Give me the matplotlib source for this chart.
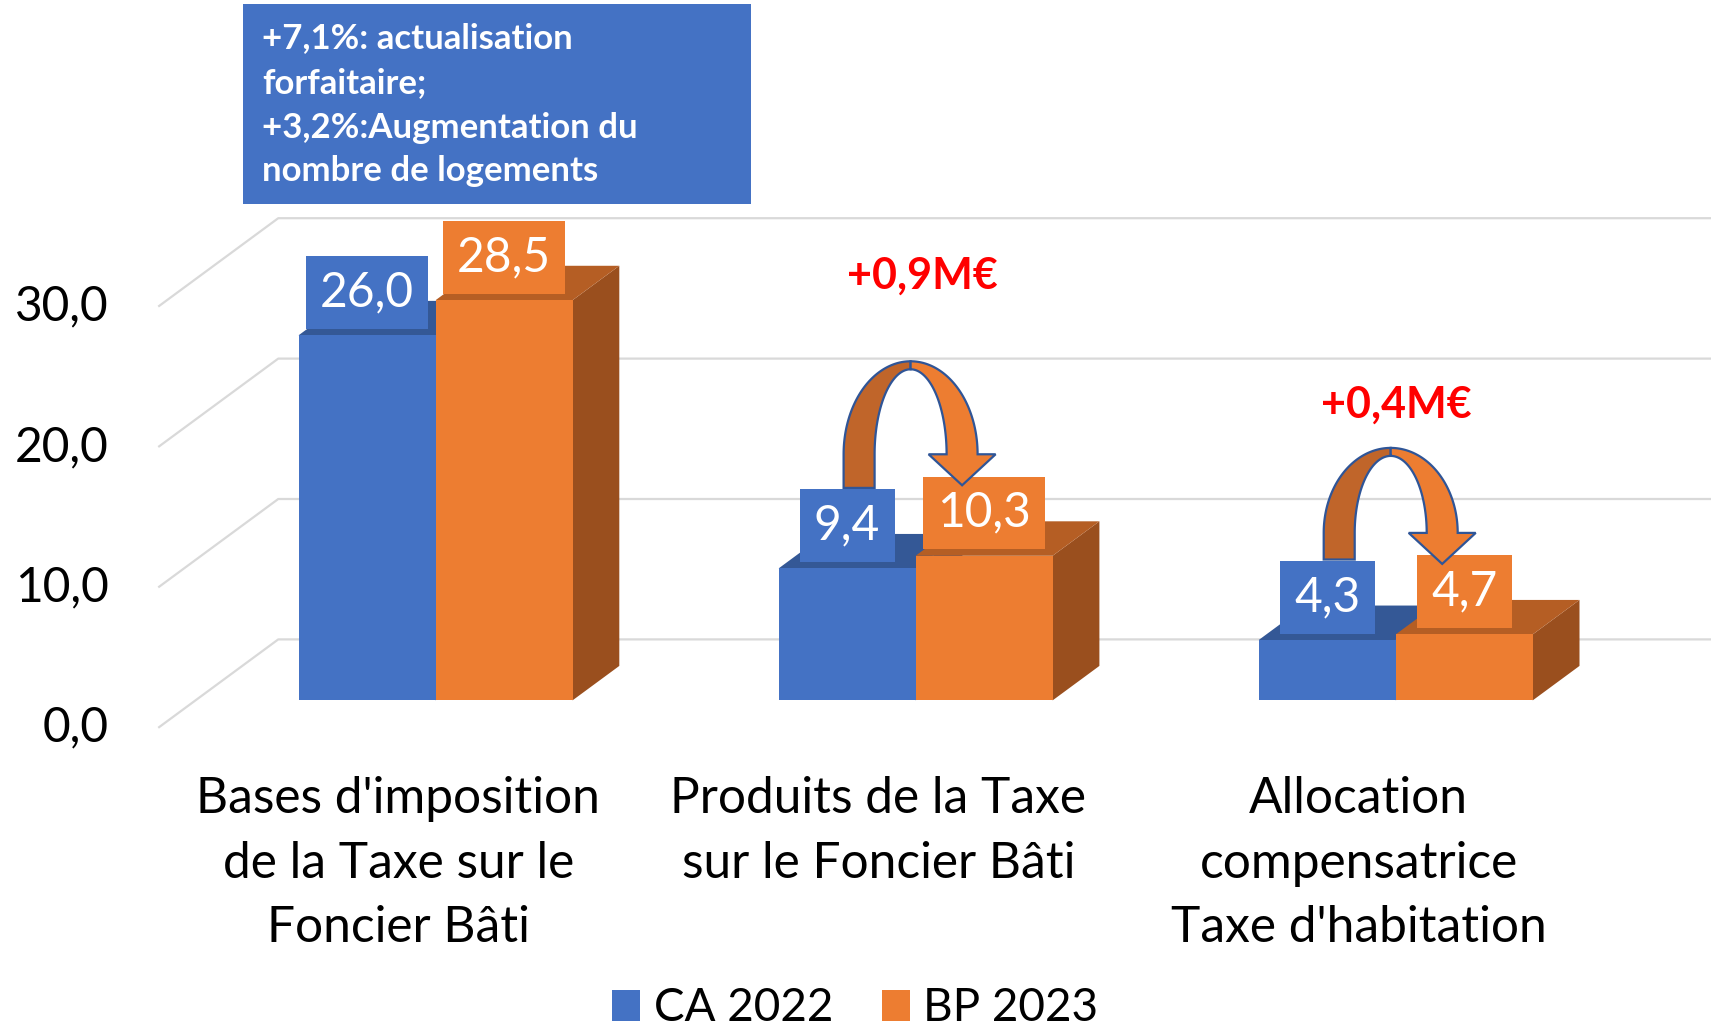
import numpy as np
import matplotlib.pyplot as plt
from matplotlib.patches import Polygon, Rectangle, Patch

plt.rcParams['font.family'] = ['Lato', 'DejaVu Sans']

# données
categories = ["Bases d'imposition\nde la Taxe sur le\nFoncier Bâti",
              "Produits de la Taxe\nsur le Foncier Bâti",
              "Allocation\ncompensatrice\nTaxe d'habitation"]
ca_2022 = [26.0, 9.4, 4.3]
bp_2023 = [28.5, 10.3, 4.7]
series_names = ["CA 2022", "BP 2023"]
y_ticks = [0, 10, 20, 30]
note_lines = ["+7,1%: actualisation", "forfaitaire;",
              "+3,2%:Augmentation du", "nombre de logements"]
delta_groups = [1, 2]
delta_texts = ["+0,9M€", "+0,4M€"]

# couleurs
BLUE, BLUE_TOP = '#4472C4', '#345896'
ORANGE, ORANGE_TOP, ORANGE_SIDE = '#ED7D31', '#B55E24', '#9A4F1E'
ARROW_DARK, ARROW_EDGE = '#C0652A', '#2F5597'
GRID = '#D9D9D9'

# mise en page (pixels de l'image 1711x1030)
W_PX, H_PX = 1711, 1030
SX, SY = 480.1, 14.04          # px par catégorie / px par unité
X0, Y0 = 398.3, 727.8          # position de la catégorie 0, valeur 0 (profondeur 0)
DX, DY = 120 / SX, 88.4 / SY   # décalage de profondeur (effet 3D)
D1, D2 = 0.31, 0.70            # face avant / arrière des barres
BAR_W = 137 / SX
GAP = 6.5                      # px entre barre et étiquette
LBL_TOP = (GAP + 74) / SY      # haut de l'étiquette au-dessus de la barre
FS = 34.5                      # taille des nombres

fig = plt.figure(figsize=(W_PX / 100, H_PX / 100), dpi=100)
ax = fig.add_axes([0, 0, 1, 1])
ax.set_xlim(-X0 / SX, (W_PX - X0) / SX)
ax.set_ylim(-(H_PX - Y0) / SY, Y0 / SY)
ax.axis('off')

# quadrillage (mur gauche + mur du fond)
x_wall = -0.5
for v in y_ticks:
    ax.plot([x_wall, x_wall + DX, ax.get_xlim()[1]], [v, v + DY, v + DY],
            color=GRID, lw=1.6, zorder=0, solid_capstyle='butt')
    ax.text(x_wall - 0.1026, v, f"{v:.1f}".replace('.', ','), ha='right', va='center',
            fontsize=FS, color='black')

x = np.arange(len(categories))
x_blue = x + D1 * DX - BAR_W
x_orange = x + D1 * DX
base = D1 * DY
ox, oy = (D2 - D1) * DX, (D2 - D1) * DY


def faces(xl, value, top_c, side_c, z):
    xr = xl + BAR_W
    y1 = value + base
    ax.add_patch(Polygon([(xr, base), (xr + ox, base + oy), (xr + ox, y1 + oy), (xr, y1)],
                         closed=True, fc=side_c, ec='none', zorder=z))
    ax.add_patch(Polygon([(xl, y1), (xr, y1), (xr + ox, y1 + oy), (xl + ox, y1 + oy)],
                         closed=True, fc=top_c, ec='none', zorder=z))


for i in range(len(categories)):
    faces(x_blue[i], ca_2022[i], BLUE_TOP, BLUE_TOP, 2)
    faces(x_orange[i], bp_2023[i], ORANGE_TOP, ORANGE_SIDE, 3)
ax.bar(x_blue, ca_2022, width=BAR_W, bottom=base, align='edge', color=BLUE, zorder=2.5)
ax.bar(x_orange, bp_2023, width=BAR_W, bottom=base, align='edge', color=ORANGE, zorder=3.5)

# étiquettes de valeurs
PAD = 0.30
for xs, vals, col in [(x_blue, ca_2022, BLUE), (x_orange, bp_2023, ORANGE)]:
    for xi, v in zip(xs, vals):
        y = v + base + (GAP + PAD * FS * 100 / 72) / SY
        ax.text(xi + BAR_W / 2, y, f"{v:.1f}".replace('.', ','), ha='center', va='bottom',
                fontsize=FS, color='white', zorder=5,
                bbox=dict(boxstyle=f'square,pad={PAD}', fc=col, ec='none'))


# flèches courbes
def curved_arrow(i, rise_px):
    leg_c = x_blue[i] + BAR_W / 2 + 12 / SX
    tip_x = x_orange[i] + BAR_W / 2 - 22 / SX
    foot_y = ca_2022[i] + base + LBL_TOP
    o_top = bp_2023[i] + base + LBL_TOP
    tip_y = o_top - 10 / SY
    band = 31
    outer_l = leg_c - band / 2 / SX
    outer_r = tip_x + band / 2 / SX
    cx = (outer_l + outer_r) / 2
    ao = (outer_r - outer_l) / 2
    ai = ao - band / SX
    cy = tip_y + 31 / SY
    bo = o_top + rise_px / SY - cy
    bi = bo - 8 / SY
    t_l = np.linspace(np.pi, np.pi / 2, 60)
    left = [(cx - ao, foot_y)] + list(zip(cx + ao * np.cos(t_l), cy + bo * np.sin(t_l)))
    left += list(zip(cx + ai * np.cos(t_l[::-1]), cy + bi * np.sin(t_l[::-1])))
    left += [(cx - ai, foot_y)]
    t_r = np.linspace(np.pi / 2, 0, 60)
    right = list(zip(cx + ao * np.cos(t_r), cy + bo * np.sin(t_r)))
    hw = 33.5 / SX
    right += [(tip_x + hw, cy), (tip_x, tip_y), (tip_x - hw, cy)]
    right += list(zip(cx + ai * np.cos(t_r[::-1]), cy + bi * np.sin(t_r[::-1])))
    ax.add_patch(Polygon(left, closed=True, fc=ARROW_DARK, ec=ARROW_EDGE, lw=1.6, zorder=6))
    ax.add_patch(Polygon(right, closed=True, fc=ORANGE, ec=ARROW_EDGE, lw=1.6, zorder=6))


curved_arrow(1, 114)
curved_arrow(2, 106)

delta_pos = [(1.0908, 32.2), (2.0796, 23.0)]
for (px, py), txt in zip(delta_pos, delta_texts):
    ax.text(px, py, txt, ha='center', va='center', fontsize=31, fontweight='bold',
            color='#FF0000', zorder=7)

# catégories
for i, lab in enumerate(categories):
    ax.text(i, -3.45, lab, ha='center', va='top', fontsize=35.7, linespacing=1.5)

# encadré
fig.add_artist(Rectangle((243 / W_PX, 1 - 204 / H_PX), 508 / W_PX, 199.6 / H_PX,
                         transform=fig.transFigure, fc=BLUE, ec='none', zorder=8))
for yy, line in zip([38.2, 82.9, 127.7, 171.3], note_lines):
    fig.text(262 / W_PX, 1 - yy / H_PX, line, ha='left', va='center', fontsize=25,
             fontweight='bold', color='white', zorder=9)

# légende
handles = [Patch(fc=BLUE, ec='none'), Patch(fc=ORANGE, ec='none')]
ax.legend(handles, series_names, loc='center', bbox_to_anchor=(0.5, 0.021),
          bbox_transform=fig.transFigure, ncol=2, frameon=False, fontsize=33,
          handlelength=0.6, handleheight=0.66, handletextpad=0.3, columnspacing=1.07,
          borderpad=0, borderaxespad=0)

fig.savefig('out.png', dpi=100)
